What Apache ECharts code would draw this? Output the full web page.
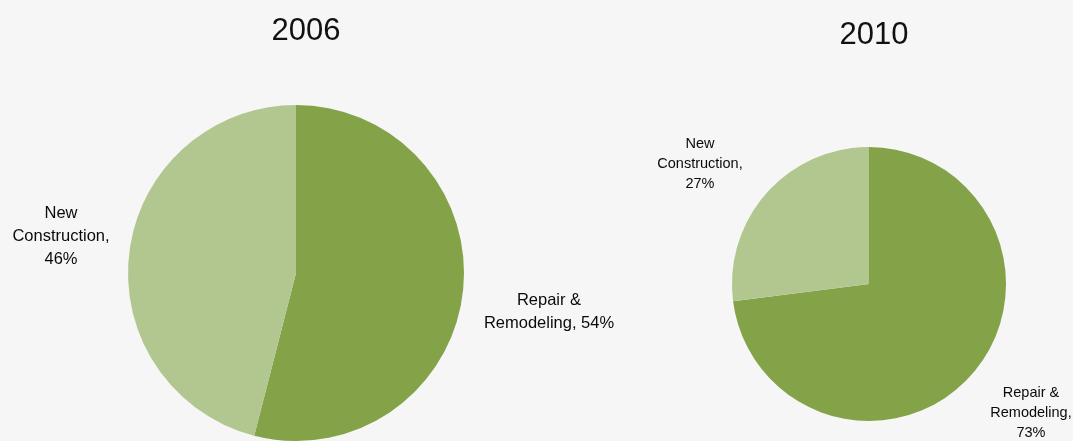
<!DOCTYPE html>
<html><head><meta charset="utf-8">
<script src="https://cdn.jsdelivr.net/npm/echarts@6/dist/echarts.min.js"></script>
<style>html,body{margin:0;padding:0;background:#f6f6f6}#c{width:1073px;height:441px}</style>
</head><body><div id="c"></div>
<script>
const years = ['2006', '2010'];
const categories = ['Repair & Remodeling', 'New Construction'];
const values2006 = [54, 46];
const values2010 = [73, 27];
const labels2006 = ['Repair &\nRemodeling, 54%', 'New\nConstruction,\n46%'];
const labels2010 = ['Repair &\nRemodeling,\n73%', 'New\nConstruction,\n27%'];

const colors = ['#84a349', '#b2c78f'];
const labelPos = [
  [[549, 312], [61, 236]],
  [[1031, 413], [700, 164]]
];
const labelFont = [[16.5, 23], [14.5, 20]];
const FF = 'Liberation Sans, Arial, sans-serif';
const chart = echarts.init(document.getElementById('c'));
function mk(si, vals, labs, center, radius) {
  return {
    type: 'pie', center: center, radius: radius, startAngle: 90, clockwise: true,
    silent: true, animation: false,
    data: categories.map((c, i) => ({ name: c, value: vals[i], itemStyle: { color: colors[i] },
      label: { formatter: labs[i] } })),
    label: { show: true, position: 'outside', color: '#0a0a0a', fontSize: labelFont[si][0],
      lineHeight: labelFont[si][1], overflow: 'none', width: 200,
      fontFamily: FF, align: 'center' },
    labelLine: { show: false },
    labelLayout: function (p) { const q = labelPos[si][p.dataIndex];
      return { x: q[0], y: q[1], align: 'center', verticalAlign: 'middle' }; }
  };
}
chart.setOption({
  backgroundColor: '#f6f6f6',
  title: [
    { text: years[0], left: 301, top: 11, textAlign: 'center',
      textStyle: { fontSize: 31, fontWeight: 'normal', color: '#111', fontFamily: FF } },
    { text: years[1], left: 869, top: 15, textAlign: 'center',
      textStyle: { fontSize: 31, fontWeight: 'normal', color: '#111', fontFamily: FF } }
  ],
  series: [
    mk(0, values2006, labels2006, [296, 273], 168),
    mk(1, values2010, labels2010, [869, 284], 137)
  ]
});
</script></body></html>
